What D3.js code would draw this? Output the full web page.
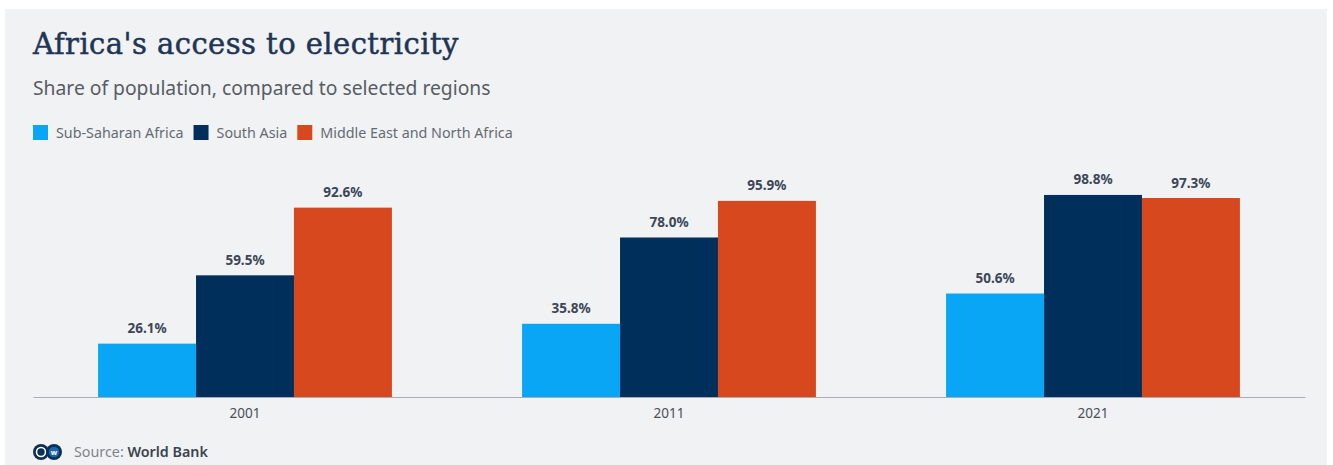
<!DOCTYPE html>
<html>
<head>
<meta charset="utf-8">
<script src="https://cdn.jsdelivr.net/npm/d3@7"></script>
<style>
  html, body { margin: 0; padding: 0; background: #ffffff; }
  svg { display: block; }
</style>
</head>
<body>
<svg id="chart" width="1333" height="465"></svg>
<script>
// Access to electricity, % of population
const years = ["2001", "2011", "2021"];
const regions = ["Sub-Saharan Africa", "South Asia", "Middle East and North Africa"];
const subSaharanAfrica = [26.1, 35.8, 50.6];
const southAsia = [59.5, 78.0, 98.8];
const middleEastNorthAfrica = [92.6, 95.9, 97.3];
const colors = ["#0aa6f6", "#002f5c", "#d7481e"];

const seriesValues = [subSaharanAfrica, southAsia, middleEastNorthAfrica];
const rows = years.map((year, i) => ({
  year,
  values: regions.map((r, k) => ({ region: r, value: seriesValues[k][i], color: colors[k] }))
}));

const svg = d3.select("#chart");
const W = 1333, H = 465;
const sans = "'Noto Sans', 'Open Sans', sans-serif";

// panel background
svg.append("rect").attr("x", 5).attr("y", 9).attr("width", 1322).attr("height", H - 9)
  .attr("fill", "#f1f2f4");

// title and subtitle
svg.append("text").attr("x", 33).attr("y", 54)
  .attr("font-family", "'DejaVu Serif', serif").attr("font-size", 29)
  .attr("letter-spacing", 0.45)
  .attr("fill", "#1e3553").attr("stroke", "#1e3553").attr("stroke-width", 0.5)
  .text("Africa's access to electricity");

svg.append("text").attr("x", 33).attr("y", 95)
  .attr("font-family", sans).attr("font-size", 19.3)
  .attr("fill", "#575c64").text("Share of population, compared to selected regions");

// legend
const legend = svg.append("g").attr("transform", "translate(33,125)");
let lx = 0;
regions.forEach((r, k) => {
  const g = legend.append("g").attr("transform", `translate(${lx},0)`);
  g.append("rect").attr("width", 15).attr("height", 15).attr("fill", colors[k]);
  const t = g.append("text").attr("x", 23).attr("y", 12.5)
    .attr("font-family", sans).attr("font-size", 14.3)
    .attr("fill", "#666b73").text(r);
  lx += 23 + t.node().getComputedTextLength() + 10;
});

// scales
const x0 = d3.scaleBand().domain(years).range([33, 1305]).paddingInner(0.307).paddingOuter(0.1535);
const x1 = d3.scaleBand().domain(regions).range([0, x0.bandwidth()]).padding(0);
const y = d3.scaleLinear().domain([0, 100]).range([397, 192.5]);

// bars
const groups = svg.append("g").selectAll("g").data(rows).join("g")
  .attr("transform", d => `translate(${x0(d.year)},0)`);

groups.selectAll("rect").data(d => d.values).join("rect")
  .attr("x", d => x1(d.region))
  .attr("y", d => y(d.value))
  .attr("width", x1.bandwidth())
  .attr("height", d => y(0) - y(d.value))
  .attr("fill", d => d.color);

groups.selectAll("text").data(d => d.values).join("text")
  .attr("x", d => x1(d.region) + x1.bandwidth() / 2)
  .attr("y", d => y(d.value) - 10.5)
  .attr("text-anchor", "middle")
  .attr("font-family", sans).attr("font-size", 13.5).attr("font-weight", "bold")
  .attr("fill", "#3b4658")
  .text(d => d.value.toFixed(1) + "%");

// x axis
const xAxis = svg.append("g").attr("transform", `translate(0,${y(0)})`)
  .call(d3.axisBottom(x0).tickSize(0).tickPadding(11));
xAxis.select(".domain").attr("stroke", "#a9adb3").attr("stroke-width", 1.2);
xAxis.selectAll("text").attr("font-family", sans).attr("font-size", 13.5)
  .attr("fill", "#4a4f56");

// footer: logo and source
const logo = svg.append("g").attr("transform", "translate(33,444)");
logo.append("circle").attr("cx", 8).attr("cy", 8).attr("r", 8).attr("fill", "#0c3057");
logo.append("circle").attr("cx", 8).attr("cy", 8).attr("r", 4.5).attr("fill", "none")
  .attr("stroke", "#ffffff").attr("stroke-width", 1.6);
logo.append("circle").attr("cx", 21).attr("cy", 8).attr("r", 8).attr("fill", "#0c3057");
logo.append("circle").attr("cx", 21).attr("cy", 8).attr("r", 5.2).attr("fill", "#1d66ad");
logo.append("text").attr("x", 21).attr("y", 10.5).attr("text-anchor", "middle")
  .attr("font-family", sans).attr("font-size", 7.5).attr("font-weight", "bold")
  .attr("fill", "#ffffff").text("w");

const src = svg.append("text").attr("x", 74).attr("y", 457)
  .attr("font-family", sans).attr("font-size", 14.3);
src.append("tspan").attr("fill", "#80858c").text("Source: ");
src.append("tspan").attr("fill", "#3b4350").attr("font-weight", "600").text("World Bank");
</script>
</body>
</html>
